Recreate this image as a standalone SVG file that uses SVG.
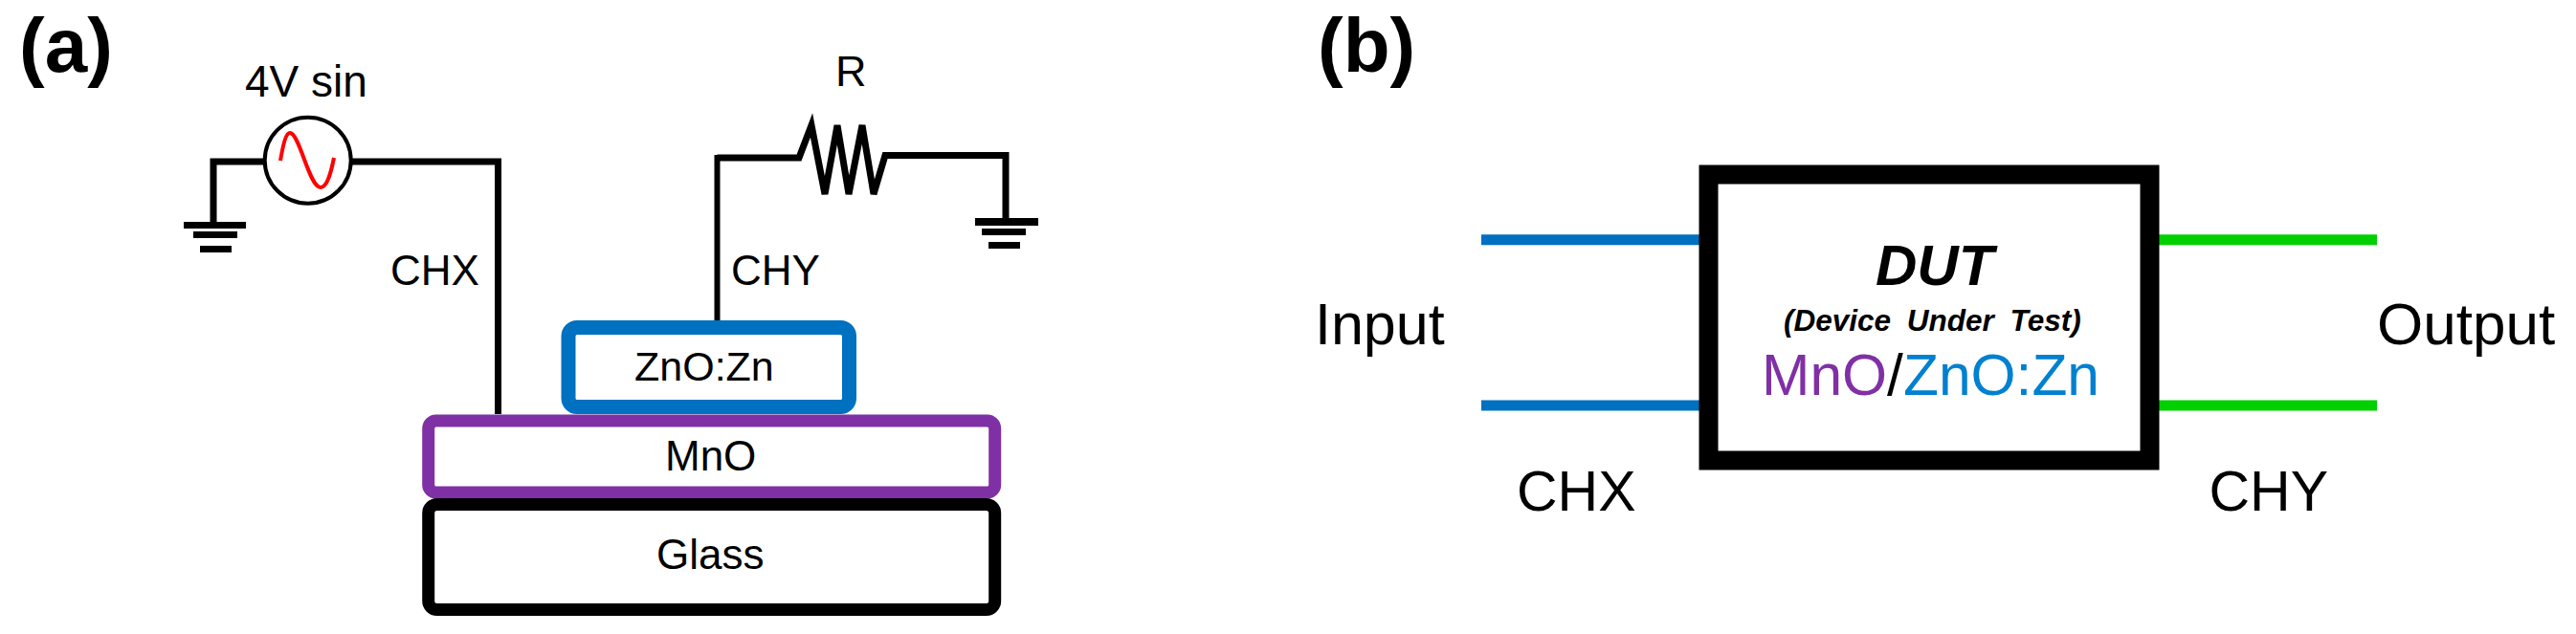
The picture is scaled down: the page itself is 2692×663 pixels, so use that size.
<svg xmlns="http://www.w3.org/2000/svg" width="2692" height="663" viewBox="0 0 2692 663">
<style>
text{font-family:"Liberation Sans",Arial,sans-serif;fill:#000}
.p{font-weight:bold;font-size:80px}
.a{font-size:44px}
.b{font-size:60px}
.w{fill:none;stroke:#000;stroke-linejoin:miter;stroke-linecap:butt}
.box{fill:#fff}
.g{fill:#000}
</style>
<rect width="2692" height="663" fill="#fff"/>
<g id="connectors">
<path class="w" stroke-width="7" d="M275 169H223V232"/>
<path class="w" stroke-width="7" d="M368 169H520.500V433"/>
<path class="w" stroke-width="6" d="M749.500 335V165H835"/>
<path class="w" stroke-width="7" d="M749.500 165H835L848 131L862 203L875 131L887 203L901 131L913 203L925 162.500H1051V228"/>
<path fill="none" stroke="#0070c0" stroke-width="11" d="M1548 250.700H1776M1548 424H1776"/>
<path fill="none" stroke="#00d000" stroke-width="11" d="M2255 250.700H2484M2255 424H2484"/>
</g>
<g id="panel-labels">
<text class="p" x="20" y="75">(a)</text>
<text class="p" x="1377" y="75">(b)</text>
</g>
<g id="source">
<circle cx="321.700" cy="167.700" r="45" fill="#fff" stroke="#000" stroke-width="4"/>
<path fill="none" stroke="#f00" stroke-width="4" d="M293 168C296 150 299 139 303 139C313 139 323 196 335 196C342 196 346 180 349 165"/>
<text x="256" y="100.500" font-size="46">4V sin</text>
</g>
<g id="ground-left">
<rect class="g" x="192" y="232" width="65" height="7"/>
<rect class="g" x="202" y="242" width="46" height="7"/>
<rect class="g" x="209" y="257" width="33" height="7"/>
</g>
<g id="resistor"><text x="873" y="90" font-size="45">R</text></g>
<g id="ground-right">
<rect class="g" x="1019" y="228" width="66" height="8"/>
<rect class="g" x="1026" y="239" width="46" height="7"/>
<rect class="g" x="1033" y="253" width="33" height="7"/>
</g>
<g id="label-chx-a"><text class="a" x="408" y="298">CHX</text></g>
<g id="label-chy-a"><text class="a" x="764" y="298">CHY</text></g>
<g id="zno">
<rect class="box" x="594" y="342.500" width="293.500" height="83" rx="9" stroke="#0070c0" stroke-width="15"/>
<text x="663" y="398" font-size="43">ZnO:Zn</text>
</g>
<g id="mno">
<rect class="box" x="447.700" y="440" width="592" height="75" rx="8" stroke="#8030a5" stroke-width="13"/>
<text class="a" x="695" y="491.500">MnO</text>
</g>
<g id="glass">
<rect class="box" x="447.700" y="527.500" width="592" height="110" rx="9" stroke="#000" stroke-width="13"/>
<text class="a" x="686" y="595">Glass</text>
</g>
<g id="dut">
<rect class="box" x="1785.500" y="182.500" width="461" height="299" stroke="#000" stroke-width="20"/>
<text x="1960" y="298" font-size="60" font-weight="bold" font-style="italic">DUT</text>
<text x="1864" y="346" font-size="31.500" font-weight="bold" font-style="italic" word-spacing="8">(Device Under Test)</text>
<text x="1841" y="412.500" font-size="60.500"><tspan fill="#8030a5">MnO</tspan><tspan>/</tspan><tspan fill="#0080d0">ZnO:Zn</tspan></text>
</g>
<g id="label-input"><text x="1374" y="360" font-size="61">Input</text></g>
<g id="label-output"><text x="2484" y="360" font-size="62">Output</text></g>
<g id="label-chx-b"><text x="1585" y="534" font-size="59">CHX</text></g>
<g id="label-chy-b"><text x="2308.500" y="534" font-size="59">CHY</text></g>
</svg>
